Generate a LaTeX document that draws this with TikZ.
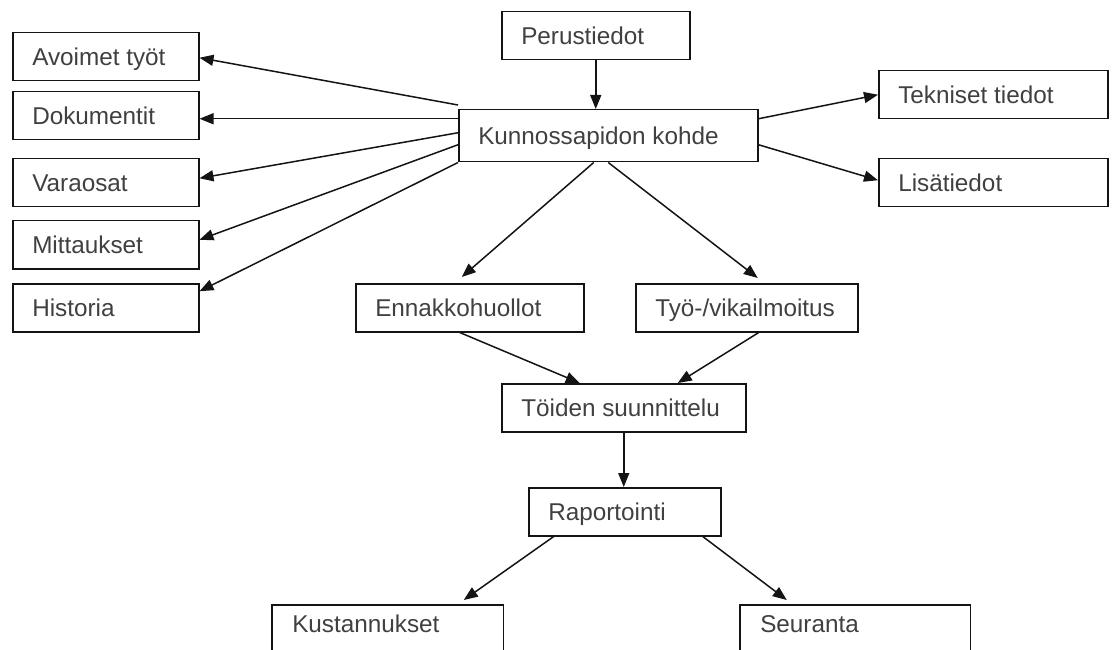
\documentclass[tikz,border=0pt]{standalone}
\usepackage{fontspec}
\setmainfont{Liberation Sans}
\usetikzlibrary{arrows.meta,calc}
\definecolor{txtgray}{RGB}{64,64,64}
\definecolor{linegray}{RGB}{20,20,20}
\newcommand{\bt}[2]{\makebox[#1pt][l]{#2}}
\tikzset{
  bx/.style={draw=linegray, line width=1.5pt, anchor=north west, inner xsep=19.5pt, inner ysep=0pt,
    minimum height=48pt, text height=17.4pt, text depth=0pt,
    font=\fontsize{24.3pt}{28pt}\selectfont, text=txtgray},
  bxopen/.style={bx, draw=none, minimum height=37pt},
  boxline/.style={draw=linegray, line width=1.5pt},
  arr/.style={draw=linegray, line width=1.5pt, -{Triangle[length=14pt,width=11pt]}}
}
\begin{document}
\begin{tikzpicture}[x=1pt,y=-1pt]
\useasboundingbox (0,0) rectangle (1112,650);
\clip (0,0) rectangle (1112,650);
% left column
\node[bx] (avo) at (12,32) {\bt{147}{Avoimet työt}};
\node[bx] (dok) at (12,91) {\bt{147}{Dokumentit}};
\node[bx] (var) at (12,158) {\bt{147}{Varaosat}};
\node[bx] (mit) at (12,220) {\bt{147}{Mittaukset}};
\node[bx] (his) at (12,283) {\bt{147}{Historia}};
% top
\node[bx] (per) at (501,11) {\bt{149}{Perustiedot}};
\node[bx, minimum height=52pt] (kun) at (458,109) {\bt{260}{Kunnossapidon kohde}};
% right
\node[bx] (tek) at (878,70) {\bt{190}{Tekniset tiedot}};
\node[bx] (lis) at (878,158) {\bt{190}{Lisätiedot}};
% middle
\node[bx] (enn) at (355,283) {\bt{189}{Ennakkohuollot}};
\node[bx] (tyo) at (635,283) {\bt{183}{Työ-/vikailmoitus}};
\node[bx] (toi) at (501,383) {\bt{205}{Töiden suunnittelu}};
\node[bx] (rap) at (528,487) {\bt{153}{Raportointi}};
% bottom (cut off)
\node[bxopen] (kus) at (272,605) {\bt{191}{Kustannukset}};
\node[bxopen] (seu) at (740,605) {\bt{190}{Seuranta}};
\draw[boxline] ([yshift=-20pt]kus.south west) -- (kus.north west) -- (kus.north east) -- ([yshift=-20pt]kus.south east);
\draw[boxline] ([yshift=-20pt]seu.south west) -- (seu.north west) -- (seu.north east) -- ([yshift=-20pt]seu.south east);
% arrows
\draw[arr] (per.south) -- (per.south |- kun.north);
\draw[arr] ([yshift=4pt]kun.north west) -- ([yshift=-1pt]avo.east);
\draw[arr] ([yshift=17pt]kun.west) -- ([yshift=-3pt]dok.east);
\draw[arr] ([yshift=3pt]kun.west) -- ([yshift=4.5pt]var.east);
\draw[arr] ([yshift=-9pt]kun.west) -- ([yshift=5pt]mit.east);
\draw[arr] (kun.south west) -- ([yshift=16.5pt]his.east);
\draw[arr] ([yshift=17pt]kun.east) -- (tek.west);
\draw[arr] ([yshift=-9pt]kun.east) -- ([yshift=2.5pt]lis.west);
\draw[arr] ([xshift=-14.5pt]kun.south) -- ([xshift=-8pt,yshift=6pt]enn.north);
\draw[arr] (kun.south) -- ([xshift=11pt,yshift=5pt]tyo.north);
\draw[arr] ([xshift=-10pt]enn.south) -- ([xshift=-44pt]toi.north);
\draw[arr] ([xshift=12pt]tyo.south) -- ([xshift=54pt]toi.north);
\draw[arr] (toi.south) -- (toi.south |- rap.north);
\draw[arr] ([xshift=-71pt]rap.south) -- ([xshift=76pt,yshift=5pt]kus.north);
\draw[arr] ([xshift=78pt]rap.south) -- ([xshift=-68.5pt,yshift=5pt]seu.north);
\end{tikzpicture}
\end{document}
